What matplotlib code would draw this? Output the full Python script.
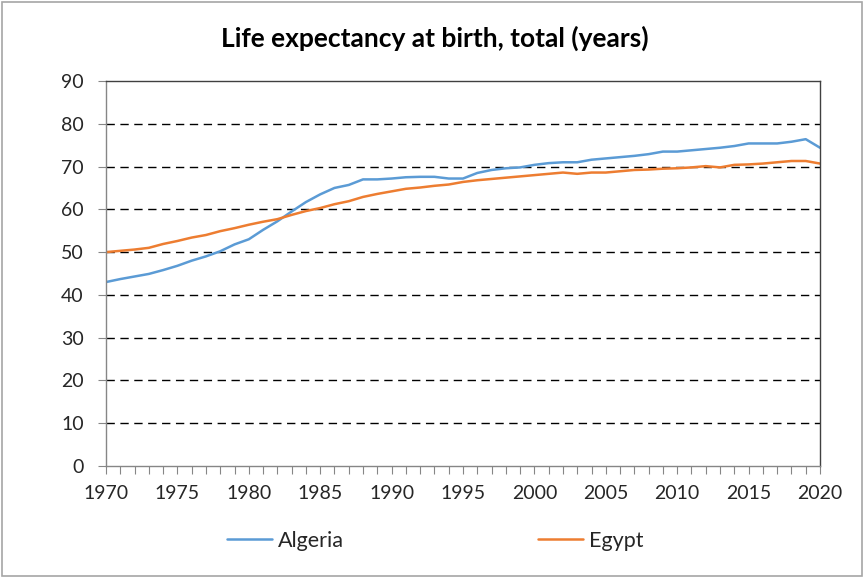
import matplotlib
matplotlib.use("Agg")
import matplotlib.pyplot as plt
from matplotlib.patches import Rectangle
from matplotlib.ticker import MultipleLocator

years = list(range(1970, 2021))
algeria = [43.0, 43.7, 44.3, 44.9, 45.8, 46.8, 48.0, 49.0, 50.2, 51.8,
           53.0, 55.2, 57.2, 59.5, 61.7, 63.5, 65.0, 65.7, 67.0, 67.0,
           67.2, 67.5, 67.6, 67.6, 67.2, 67.2, 68.5, 69.2, 69.6, 69.8,
           70.4, 70.8, 71.0, 71.0, 71.6, 71.9, 72.2, 72.5, 72.9, 73.5,
           73.5, 73.8, 74.1, 74.4, 74.8, 75.4, 75.4, 75.4, 75.8, 76.4,
           74.4]
egypt = [50.0, 50.3, 50.6, 51.0, 51.9, 52.6, 53.4, 54.0, 54.9, 55.6,
         56.4, 57.1, 57.7, 58.7, 59.6, 60.3, 61.2, 61.9, 62.9, 63.6,
         64.2, 64.8, 65.1, 65.5, 65.8, 66.4, 66.8, 67.1, 67.4, 67.7,
         68.0, 68.3, 68.6, 68.3, 68.6, 68.6, 68.9, 69.2, 69.3, 69.5,
         69.6, 69.8, 70.1, 69.8, 70.4, 70.5, 70.7, 71.0, 71.3, 71.3,
         70.7]
title = "Life expectancy at birth, total (years)"
series_names = ["Algeria", "Egypt"]
colors = ["#5B9BD5", "#ED7D31"]

plt.rcParams['font.family'] = ['Lato', 'DejaVu Sans']

W, H = 865, 578
fig = plt.figure(figsize=(W / 100, H / 100), dpi=100)
fig.patches.append(Rectangle((0.002, 0.003), 0.994, 0.994, transform=fig.transFigure,
                             fill=False, edgecolor="#A6A6A6", linewidth=1.2))

left, right, top, bottom = 106, 820, 81, 466
ax = fig.add_axes([left / W, 1 - bottom / H, (right - left) / W, (bottom - top) / H])

for vals, name, c in zip([algeria, egypt], series_names, colors):
    ax.plot(years, vals, color=c, linewidth=1.8, label=name, solid_capstyle='round')

ax.set_xlim(1970, 2020)
ax.set_ylim(0, 90)
ax.xaxis.set_major_locator(MultipleLocator(5))
ax.xaxis.set_minor_locator(MultipleLocator(1))
ax.yaxis.set_major_locator(MultipleLocator(10))

for yv in range(10, 90, 10):
    ax.axhline(yv, color="black", linewidth=1.0, linestyle=(0, (6, 4)), zorder=0.5)

ax.tick_params(axis='x', which='both', direction='out', length=5.5, width=0.8,
               color="#868686", labelsize=14, pad=8, labelcolor="#262626")
ax.tick_params(axis='y', which='major', direction='out', length=6, width=0.8,
               color="#868686", labelsize=14, pad=10, labelcolor="#262626")

ax.spines['left'].set_color("#868686")
ax.spines['bottom'].set_color("#868686")
ax.spines['top'].set_color("#404040")
ax.spines['right'].set_color("#404040")
for s in ax.spines.values():
    s.set_linewidth(1.0)

fig.text(435 / W, 1 - 38 / H, title, ha='center', va='center', fontsize=19,
         fontweight='bold', color="black")

fig.legend(loc='center', bbox_to_anchor=(435 / W, 1 - 541 / H), ncol=2,
           frameon=False, fontsize=15.5, handlelength=2.1, handletextpad=0.28,
           columnspacing=9.0, labelcolor="#262626")

fig.savefig("out.png", dpi=100)
